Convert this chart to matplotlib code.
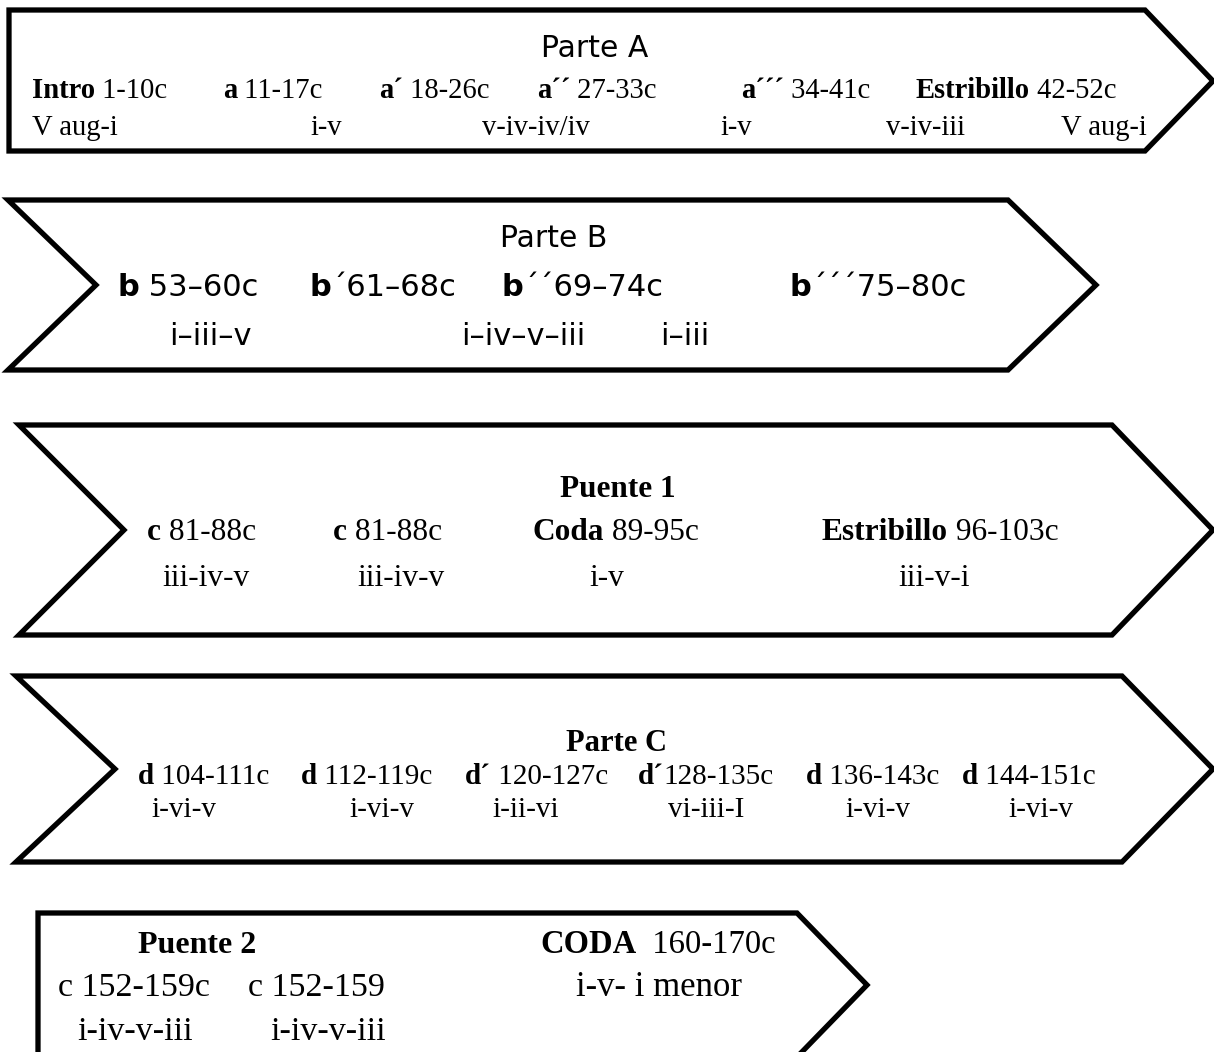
import matplotlib
matplotlib.use("Agg")
import matplotlib.pyplot as plt
from matplotlib.patches import Polygon

# --- datos (texto de cada bloque) ---
parte_a_titulo = "Parte A"
parte_a_secciones = [("Intro", " 1-10c"), ("a", " 11-17c"), ("a´", " 18-26c"),
                     ("a´´", " 27-33c"), ("a´´´", " 34-41c"), ("Estribillo", " 42-52c")]
parte_a_acordes = ["V aug-i", "i-v", "v-iv-iv/iv", "i-v", "v-iv-iii", "V aug-i"]

parte_b_titulo = "Parte B"
parte_b_secciones = [("b", " 53–60c"), ("b", "´61–68c"), ("b", "´´69–74c"), ("b", "´´´75–80c")]
parte_b_acordes = ["i–iii–v", "i–iv–v–iii", "i–iii"]

puente1_titulo = "Puente 1"
puente1_secciones = [("c", " 81-88c"), ("c", " 81-88c"), ("Coda", " 89-95c"), ("Estribillo", " 96-103c")]
puente1_acordes = ["iii-iv-v", "iii-iv-v", "i-v", "iii-v-i"]

parte_c_titulo = "Parte C"
parte_c_secciones = [("d", " 104-111c"), ("d", " 112-119c"), ("d´", " 120-127c"),
                     ("d´", "128-135c"), ("d", " 136-143c"), ("d", " 144-151c")]
parte_c_acordes = ["i-vi-v", "i-vi-v", "i-ii-vi", "vi-iii-I", "i-vi-v", "i-vi-v"]

puente2_titulo = "Puente 2"
coda_titulo = ("CODA", "  160-170c")
puente2_secciones = [("", "c 152-159c"), ("", "c 152-159")]
puente2_acordes = ["i-iv-v-iii", "i-iv-v-iii"]
coda_acordes = ["i-v- i menor"]

# --- posiciones (pixeles de la imagen) ---
W, H = 1214, 1052
SERIF = ["Liberation Serif", "DejaVu Serif"]
SANS = ["DejaVu Sans"]

fig = plt.figure(figsize=(W / 100, H / 100), dpi=100)
ax = fig.add_axes([0, 0, 1, 1])
ax.set_xlim(0, W)
ax.set_ylim(H, 0)
ax.axis("off")
renderer = fig.canvas.get_renderer()


def forma(puntos):
    ax.add_patch(Polygon(puntos, closed=True, facecolor="white", edgecolor="black",
                         lw=3.8, joinstyle="miter", zorder=1))


def texto(x, y, negrita, normal, size, family):
    # parte en negrita seguida de la parte normal
    x0 = x
    if negrita:
        t = ax.text(x0, y, negrita, fontsize=size, family=family, fontweight="bold",
                    va="baseline", ha="left", zorder=3)
        x0 += t.get_window_extent(renderer).width
    if normal:
        ax.text(x0, y, normal, fontsize=size, family=family, va="baseline",
                ha="left", zorder=3)


# Parte A: pentagono
forma([(9, 10), (1145, 10), (1213, 81), (1145, 151), (9, 151)])
ax.text(595, 57, parte_a_titulo, fontsize=21.5, family=SANS, ha="center", va="baseline")
for (b, n), x in zip(parte_a_secciones, [32, 223, 379, 537, 741, 916]):
    texto(x, 98, b, n, 20.6, SERIF)
for s, x in zip(parte_a_acordes, [32, 310, 482, 720, 886, 1061]):
    texto(x, 135, "", s, 20.6, SERIF)

# Parte B: chevron
forma([(8, 200), (1008, 200), (1096, 285), (1008, 370), (8, 370), (96, 285)])
ax.text(500, 247, parte_b_titulo, fontsize=21.5, family=SANS, ha="left", va="baseline")
for (b, n), x in zip(parte_b_secciones, [117, 310, 502, 790]):
    texto(x, 296, b, n, 22, SANS)
for s, x in zip(parte_b_acordes, [169, 461, 660]):
    texto(x, 345, "", s, 22, SANS)

# Puente 1
forma([(19, 425), (1112, 425), (1213, 530), (1112, 635), (19, 635), (124, 530)])
ax.text(618, 497, puente1_titulo, fontsize=22.5, family=SERIF, fontweight="bold",
        ha="center", va="baseline")
for (b, n), x in zip(puente1_secciones, [147, 333, 533, 822]):
    texto(x, 540, b, n, 22.6, SERIF)
for s, x in zip(puente1_acordes, [162, 357, 589, 898]):
    texto(x, 586, "", s, 22.6, SERIF)

# Parte C
forma([(16, 676), (1122, 676), (1213, 769), (1122, 862), (16, 862), (115, 769)])
ax.text(617, 751, parte_c_titulo, fontsize=22, family=SERIF, fontweight="bold",
        ha="center", va="baseline")
for (b, n), x in zip(parte_c_secciones, [138, 301, 465, 638, 806, 962]):
    texto(x, 784, b, n, 21, SERIF)
for s, x in zip(parte_c_acordes, [151, 349, 492, 668, 845, 1008]):
    texto(x, 817, "", s, 21, SERIF)

# Puente 2 + CODA (cortado abajo)
forma([(38, 913), (797, 913), (867, 985), (797, 1057), (38, 1057)])
texto(138, 953, puente2_titulo, "", 23, SERIF)
texto(540, 953, coda_titulo[0], coda_titulo[1], 23.5, SERIF)
for (b, n), x in zip(puente2_secciones, [58, 248]):
    texto(x, 996, b, n, 24.5, SERIF)
for s, x in zip(puente2_acordes, [77, 270]):
    texto(x, 1040, "", s, 24.5, SERIF)
for s, x in zip(coda_acordes, [576]):
    texto(x, 996, "", s, 25, SERIF)

fig.savefig("out.png", dpi=100)
